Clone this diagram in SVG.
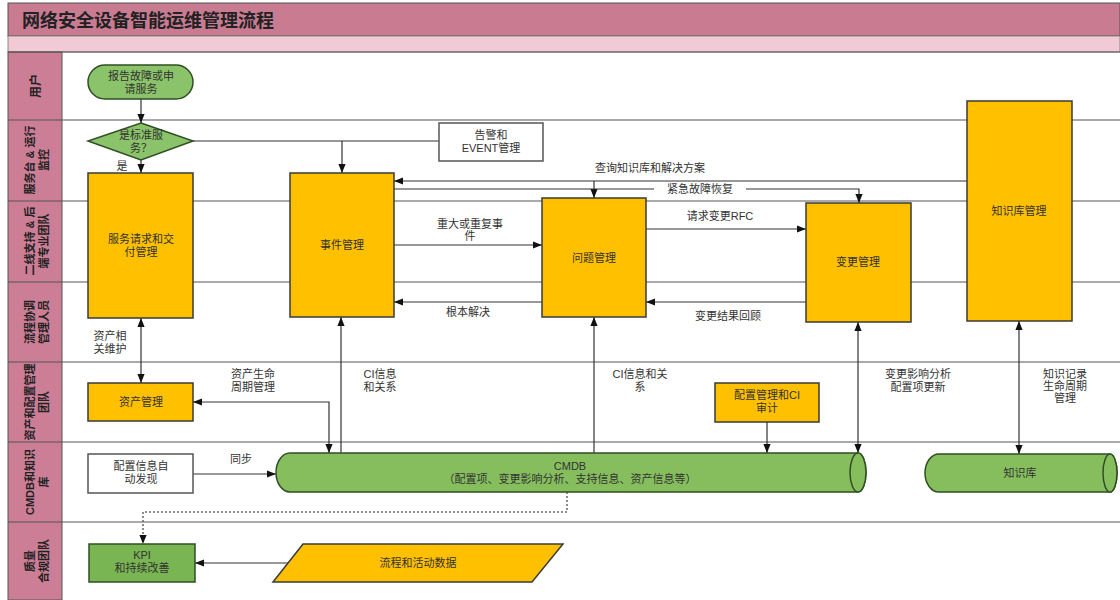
<svg xmlns="http://www.w3.org/2000/svg" width="1120" height="600" viewBox="0 0 1120 600">
<style>
.t{font-family:"Liberation Sans","Noto Sans CJK SC",sans-serif;font-size:11px;fill:#333;text-anchor:middle}
.lane{font-family:"Liberation Sans","Noto Sans CJK SC",sans-serif;font-size:11px;font-weight:bold;fill:#222;text-anchor:middle}
.y{fill:#FFC000;stroke:#3a3a3a;stroke-width:1.5}
.g{fill:#8BC36A;stroke:#2f4f22;stroke-width:1.5}
.w{fill:#fff;stroke:#555;stroke-width:1.5}
.c{fill:none;stroke:#333;stroke-width:1.2}
.sep{stroke:#555;stroke-width:1}
</style>
<defs>
<marker id="a" viewBox="0 0 10 10" refX="10" refY="5" markerWidth="9" markerHeight="9" markerUnits="userSpaceOnUse" orient="auto-start-reverse">
<path d="M0,1 L10,5 L0,9 Z" fill="#111"/>
</marker>
</defs>
<rect width="1120" height="600" fill="#fff"/>
<g id="frame">
<rect x="8" y="3" width="1112" height="33" fill="#C97B92" stroke="#555"/>
<rect x="8" y="36" width="1112" height="16" fill="#F2CAD6" stroke="#777" stroke-width="0.8"/>
<text x="22" y="27" style="font-family:'Liberation Sans','Noto Sans CJK SC',sans-serif;font-size:18px;font-weight:bold;fill:#222">网络安全设备智能运维管理流程</text>
<rect x="8" y="52" width="54" height="548" fill="#CB7E96" stroke="#555"/>
<line class="sep" x1="8" y1="52" x2="1120" y2="52"/>
<line class="sep" x1="8" y1="120" x2="1120" y2="120"/>
<line class="sep" x1="8" y1="201" x2="1120" y2="201"/>
<line class="sep" x1="8" y1="282" x2="1120" y2="282"/>
<line class="sep" x1="8" y1="362" x2="1120" y2="362"/>
<line class="sep" x1="8" y1="442" x2="1120" y2="442"/>
<line class="sep" x1="8" y1="522" x2="1120" y2="522"/>
<text class="lane" transform="translate(35,86) rotate(-90)" y="5" style="font-size:12px">用户</text>
<text class="lane" transform="translate(36,160) rotate(-90)"><tspan x="0" y="-2">服务台 &amp; 运行</tspan><tspan x="0" y="12">监控</tspan></text>
<text class="lane" transform="translate(36,241) rotate(-90)"><tspan x="0" y="-2">二线支持 &amp; 后</tspan><tspan x="0" y="12">端专业团队</tspan></text>
<text class="lane" transform="translate(36,322) rotate(-90)"><tspan x="0" y="-2">流程协调</tspan><tspan x="0" y="12">管理人员</tspan></text>
<text class="lane" transform="translate(36,402) rotate(-90)"><tspan x="0" y="-2">资产和配置管理</tspan><tspan x="0" y="12">团队</tspan></text>
<text class="lane" transform="translate(36,482) rotate(-90)"><tspan x="0" y="-2">CMDB和知识</tspan><tspan x="0" y="12">库</tspan></text>
<text class="lane" transform="translate(36,561) rotate(-90)"><tspan x="0" y="-2">质量</tspan><tspan x="0" y="12">合规团队</tspan></text>
</g>
<g id="connectors">
<path class="c" d="M141,99 V123" marker-end="url(#a)"/>
<path class="c" d="M141,160 V173" marker-end="url(#a)"/>
<path class="c" d="M193,141 H439"/>
<path class="c" d="M342,141 V173" marker-end="url(#a)"/>
<path class="c" d="M967,181 H394" marker-end="url(#a)"/>
<path class="c" d="M594,181 V198" marker-end="url(#a)"/>
<path class="c" d="M394,189 H859 V203" marker-end="url(#a)"/>
<path class="c" d="M394,245 H542" marker-end="url(#a)"/>
<path class="c" d="M542,302 H394" marker-end="url(#a)"/>
<path class="c" d="M646,229 H806" marker-end="url(#a)"/>
<path class="c" d="M806,302 H646" marker-end="url(#a)"/>
<path class="c" d="M141,318 V383" marker-start="url(#a)" marker-end="url(#a)"/>
<path class="c" d="M193,402 H329 V453" marker-start="url(#a)" marker-end="url(#a)"/>
<path class="c" d="M341,453 V317" marker-end="url(#a)"/>
<path class="c" d="M594,453 V317" marker-end="url(#a)"/>
<path class="c" d="M767,422 V453" marker-end="url(#a)"/>
<path class="c" d="M858,322 V453" marker-start="url(#a)" marker-end="url(#a)"/>
<path class="c" d="M1019,321 V454" marker-start="url(#a)" marker-end="url(#a)"/>
<path class="c" d="M193,474 H276" marker-end="url(#a)"/>
<path d="M567,492 V512 H143 V544" fill="none" stroke="#666" stroke-width="1.5" stroke-dasharray="2,2" marker-end="url(#a)"/>
<path class="c" d="M288,563 H195" marker-end="url(#a)"/>
<text class="t" x="650" y="172">查询知识库和解决方案</text>
<rect x="654" y="182" width="92" height="14" fill="#fff"/>
<text class="t" x="700" y="193">紧急故障恢复</text>
<text class="t" x="122" y="170">是</text>
<text class="t" x="470" y="228">重大或重复事</text>
<text class="t" x="470" y="240">件</text>
<text class="t" x="468" y="316">根本解决</text>
<text class="t" x="720" y="220">请求变更RFC</text>
<text class="t" x="728" y="320">变更结果回顾</text>
<text class="t" x="110" y="340">资产相</text>
<text class="t" x="110" y="353">关维护</text>
<text class="t" x="253" y="378">资产生命</text>
<text class="t" x="253" y="391">周期管理</text>
<text class="t" x="380" y="378">CI信息</text>
<text class="t" x="380" y="391">和关系</text>
<text class="t" x="640" y="378">CI信息和关</text>
<text class="t" x="640" y="391">系</text>
<text class="t" x="918" y="378">变更影响分析</text>
<text class="t" x="918" y="391">配置项更新</text>
<text class="t" x="1065" y="378">知识记录</text>
<text class="t" x="1065" y="390">生命周期</text>
<text class="t" x="1065" y="402">管理</text>
<text class="t" x="241" y="463">同步</text>
</g>
<g id="n-report">
<rect class="g" x="88" y="65" width="105" height="34" rx="17"/>
<text class="t" x="141" y="80">报告故障或申</text>
<text class="t" x="141" y="93">请服务</text>
</g>
<g id="n-standard">
<polygon class="g" points="141,123 193,141 141,160 88,141"/>
<text class="t" x="141" y="139">是标准服</text>
<text class="t" x="141" y="152">务？</text>
</g>
<g id="n-alert">
<rect class="w" x="439" y="123" width="104" height="38"/>
<text class="t" x="491" y="139">告警和</text>
<text class="t" x="491" y="152">EVENT管理</text>
</g>
<g id="n-service">
<rect class="y" x="88" y="173" width="105" height="145"/>
<text class="t" x="141" y="243">服务请求和交</text>
<text class="t" x="141" y="256">付管理</text>
</g>
<g id="n-incident">
<rect class="y" x="290" y="173" width="104" height="144"/>
<text class="t" x="342" y="249">事件管理</text>
</g>
<g id="n-problem">
<rect class="y" x="542" y="198" width="104" height="119"/>
<text class="t" x="594" y="262">问题管理</text>
</g>
<g id="n-change">
<rect class="y" x="806" y="203" width="105" height="119"/>
<text class="t" x="858" y="266">变更管理</text>
</g>
<g id="n-kbm">
<rect class="y" x="967" y="101" width="105" height="220"/>
<text class="t" x="1019" y="215">知识库管理</text>
</g>
<g id="n-asset">
<rect class="y" x="88" y="383" width="105" height="38"/>
<text class="t" x="141" y="406">资产管理</text>
</g>
<g id="n-audit">
<rect class="y" x="715" y="383" width="104" height="39"/>
<text class="t" x="767" y="399">配置管理和CI</text>
<text class="t" x="767" y="412">审计</text>
</g>
<g id="n-discover">
<rect class="w" x="88" y="454" width="105" height="39"/>
<text class="t" x="141" y="470">配置信息自</text>
<text class="t" x="141" y="483">动发现</text>
</g>
<g id="n-cmdb">
<path class="g" d="M290,453 H858 A8,19.5 0 0 1 858,492 H290 A14,19.5 0 0 1 290,453 Z" style="fill:#86BE5E"/>
<ellipse cx="858" cy="472.5" rx="8" ry="19.5" fill="#86BE5E" stroke="#2f4f22" stroke-width="1.5"/>
<text class="t" x="570" y="470">CMDB</text>
<text class="t" x="570" y="483">（配置项、变更影响分析、支持信息、资产信息等）</text>
</g>
<g id="n-kb">
<path class="g" d="M939,454 H1110 A7,19 0 0 1 1110,492 H939 A14,19 0 0 1 939,454 Z" style="fill:#86BE5E"/>
<ellipse cx="1110" cy="473" rx="7" ry="19" fill="#86BE5E" stroke="#2f4f22" stroke-width="1.5"/>
<text class="t" x="1020" y="477">知识库</text>
</g>
<g id="n-kpi">
<rect class="g" x="89" y="544" width="106" height="38" style="fill:#79B552"/>
<text class="t" x="142" y="559">KPI</text>
<text class="t" x="142" y="572">和持续改善</text>
</g>
<g id="n-data">
<polygon class="y" points="303,544 563,544 532,582 273,582"/>
<text class="t" x="418" y="567">流程和活动数据</text>
</g>
</svg>
